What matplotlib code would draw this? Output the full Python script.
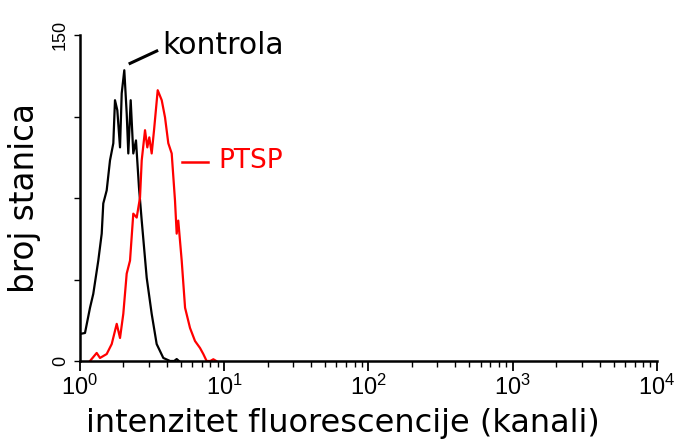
import matplotlib
matplotlib.use("Agg")
import matplotlib.pyplot as plt
import numpy as np

# ---- data ----
kontrola_x = [1.01, 1.083, 1.173, 1.236, 1.339, 1.414, 1.450, 1.531, 1.614, 1.702,
              1.748, 1.814, 1.894, 1.946, 2.028, 2.107, 2.162, 2.246, 2.341, 2.444,
              2.564, 2.678, 2.90, 3.14, 3.40, 3.78, 4.21, 4.50, 4.68, 4.85]
kontrola_y = [12.5, 12.9, 24.5, 30.9, 46.2, 58.6, 72.5, 78.5, 92.3, 100.2,
              120.0, 115.4, 98.3, 123.2, 133.8, 114.0, 95.5, 120.0, 95.5, 101.5,
              79.8, 64.6, 38.3, 21.7, 7.8, 1.4, 0.0, 0.0, 0.9, 0.0]

ptsp_x = [1.173, 1.305, 1.376, 1.531, 1.659, 1.797, 1.894, 1.996, 2.107, 2.222,
          2.341, 2.472, 2.606, 2.678, 2.823, 2.928, 3.023, 3.14, 3.26, 3.457,
          3.686, 3.885, 4.094, 4.322, 4.556, 4.68, 4.80, 5.07, 5.35, 5.79,
          6.27, 6.79, 7.16, 7.55, 8.0, 8.40, 8.8]
ptsp_y = [0.0, 3.7, 1.4, 3.2, 7.8, 17.1, 10.6, 21.7, 40.2, 46.2,
          67.8, 66.0, 75.2, 92.3, 106.2, 98.3, 102.9, 95.5, 106.2, 124.6,
          120.0, 112.1, 100.2, 95.5, 73.8, 58.6, 64.6, 46.2, 24.5, 15.2,
          9.2, 6.0, 3.2, 0.0, 0.0, 0.8, 0.0]

x_major = [1, 10, 100, 1000, 10000]
x_labels = ["$10^{0}$", "$10^{1}$", "$10^{2}$", "$10^{3}$", "$10^{4}$"]
y_major = [0, 37.5, 75, 112.5, 150]
y_labels = ["0", "", "", "", "150"]

xlabel = "intenzitet fluorescencije (kanali)"
ylabel = "broj stanica"

plt.rcParams['mathtext.fontset'] = 'custom'
plt.rcParams['mathtext.rm'] = 'Liberation Sans'
plt.rcParams['mathtext.it'] = 'Liberation Sans:italic'
plt.rcParams['mathtext.bf'] = 'Liberation Sans:bold'

fig = plt.figure(figsize=(6.78, 4.41), dpi=100)
ax = fig.add_axes([0.118, 0.1814, 0.851, 0.7392])

ax.plot(kontrola_x, kontrola_y, color='black', lw=1.6)
ax.plot(ptsp_x, ptsp_y, color='#ff0000', lw=1.6)

ax.set_xscale('log')
ax.set_xlim(1, 10000)
ax.set_ylim(0, 150)

ax.set_xticks(x_major)
ax.set_xticklabels(x_labels, fontfamily='Liberation Sans', fontsize=17)
ax.xaxis.set_minor_locator(matplotlib.ticker.LogLocator(base=10, subs=np.arange(2, 10)))
ax.xaxis.set_minor_formatter(matplotlib.ticker.NullFormatter())
ax.set_yticks(y_major)
ax.set_yticklabels(y_labels, fontfamily='Liberation Sans', fontsize=13, rotation=90, va='center')

ax.tick_params(axis='x', which='major', direction='out', length=7, width=1.3, pad=3)
ax.tick_params(axis='x', which='minor', direction='out', length=4, width=1)
ax.tick_params(axis='y', which='major', direction='out', length=4, width=1, pad=4)

for s in ['top', 'right']:
    ax.spines[s].set_visible(False)
for s in ['left', 'bottom']:
    ax.spines[s].set_linewidth(1.8)

ax.set_xlabel(xlabel, fontsize=23, fontfamily='DejaVu Sans')
ax.xaxis.set_label_coords(0.455, -0.143)
ax.set_ylabel(ylabel, fontsize=23.5, fontfamily='DejaVu Sans', labelpad=8)

# annotations
ax.plot([0.0868, 0.133], [0.913, 0.951], color='black', lw=2.2, transform=ax.transAxes, clip_on=False)
ax.text(0.142, 0.969, "kontrola", transform=ax.transAxes, fontsize=21.5,
        va='center', ha='left', color='black')
ax.plot([0.1766, 0.2227], [0.611, 0.611], color='#ff0000', lw=1.8, transform=ax.transAxes, clip_on=False)
ax.text(0.2396, 0.614, "PTSP", transform=ax.transAxes, fontsize=19,
        va='center', ha='left', color='#ff0000')

fig.savefig("out.png", dpi=100)
